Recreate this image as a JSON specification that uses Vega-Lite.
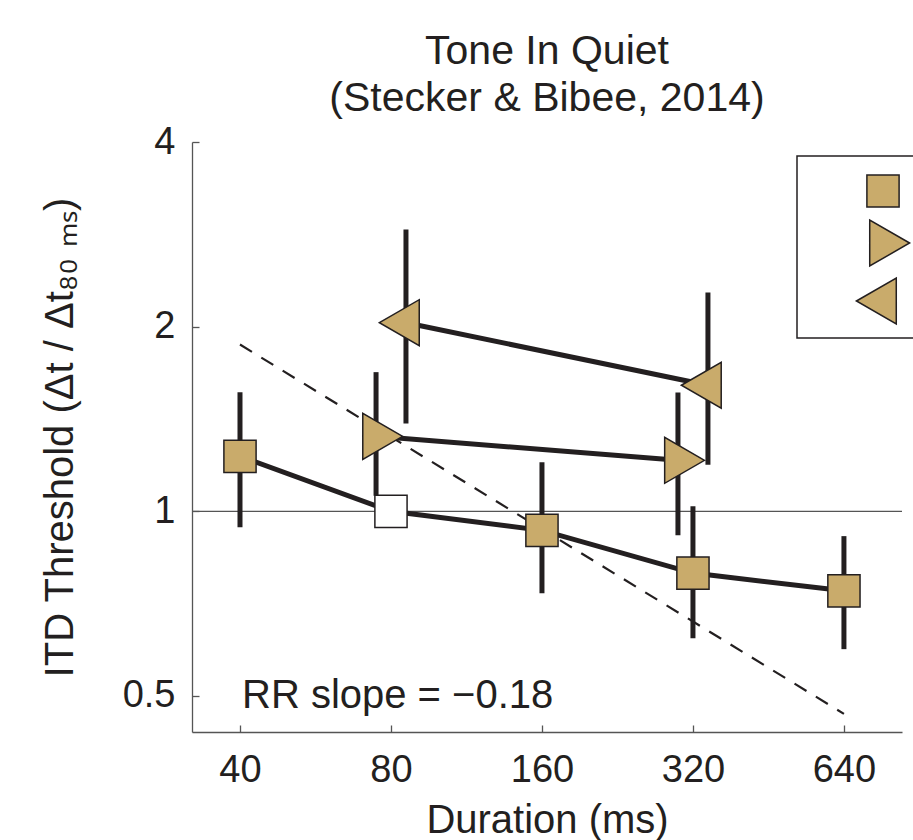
{
  "$schema": "https://vega.github.io/schema/vega-lite/v6.json",
  "width": 710,
  "height": 590,
  "autosize": {"type": "none"},
  "padding": {"left": 192, "top": 142, "right": 11, "bottom": 108},
  "background": "white",
  "config": {
    "font": "Liberation Sans",
    "view": {"stroke": null},
    "axis": {
      "grid": false,
      "domainColor": "#555555",
      "domainWidth": 1.3,
      "tickColor": "#555555",
      "tickWidth": 1.3,
      "tickSize": -7,
      "labelFontSize": 38,
      "labelColor": "#231F20",
      "labelFont": "Liberation Sans",
      "titleFont": "Liberation Sans",
      "titleFontSize": 40,
      "titleFontWeight": "normal",
      "titleColor": "#231F20",
      "labelFlush": false,
      "labelOverlap": false
    },
    "axisX": {"labelPadding": 26, "titlePadding": 11},
    "axisY": {"labelPadding": 24, "titlePadding": 42},
    "legend": {"strokeWidth": 1.5}
  },
  "title": {
    "text": ["Tone In Quiet", "(Stecker & Bibee, 2014)"],
    "font": "Liberation Sans",
    "fontSize": 41,
    "fontWeight": "normal",
    "color": "#231F20",
    "lineHeight": 47,
    "baseline": "bottom",
    "offset": -38,
    "anchor": "middle",
    "frame": "group"
  },
  "datasets": {
    "points": [
      {"series": "A", "duration": 40, "threshold": 1.229, "lo": 0.942, "hi": 1.563},
      {"series": "A", "duration": 80, "threshold": 1.0, "lo": null, "hi": null},
      {"series": "A", "duration": 160, "threshold": 0.931, "lo": 0.735, "hi": 1.202},
      {"series": "A", "duration": 320, "threshold": 0.793, "lo": 0.621, "hi": 1.019},
      {"series": "A", "duration": 640, "threshold": 0.742, "lo": 0.596, "hi": 0.911},
      {"series": "B", "duration": 74.7, "threshold": 1.325, "lo": 1.06, "hi": 1.686},
      {"series": "B", "duration": 298.7, "threshold": 1.211, "lo": 0.914, "hi": 1.562},
      {"series": "C", "duration": 85.7, "threshold": 2.03, "lo": 1.39, "hi": 2.88},
      {"series": "C", "duration": 342.8, "threshold": 1.605, "lo": 1.191, "hi": 2.274}
    ],
    "ref": [
      {"duration": 40, "threshold": 1.87},
      {"duration": 640, "threshold": 0.4675}
    ],
    "unity": [{"threshold": 1}],
    "annot": [{"duration": 40, "threshold": 0.5, "label": "RR slope = −0.18"}]
  },
  "layer": [
    {
      "data": {"name": "unity"},
      "mark": {"type": "rule", "color": "#555555", "strokeWidth": 1.3},
      "encoding": {
        "y": {"field": "threshold", "type": "quantitative",
          "scale": {"type": "log", "domain": [0.4367, 4], "nice": false},
          "axis": {"title": "ITD Threshold (Δt / Δt₈₀ ₘₛ)", "values": [0.5, 1, 2, 4], "format": "~g"}}
      }
    },
    {
      "data": {"name": "ref"},
      "mark": {"type": "line", "color": "#231F20", "strokeWidth": 2.2, "strokeDash": [14, 11]},
      "encoding": {
        "x": {"field": "duration", "type": "quantitative",
          "scale": {"type": "log", "domain": [32.09, 835.5], "nice": false, "zero": false},
          "axis": {"title": "Duration (ms)", "values": [40, 80, 160, 320, 640], "format": "d"}},
        "y": {"field": "threshold", "type": "quantitative",
          "scale": {"type": "log", "domain": [0.4367, 4], "nice": false},
          "axis": {"title": "ITD Threshold (Δt / Δt₈₀ ₘₛ)", "values": [0.5, 1, 2, 4], "format": "~g"}}
      }
    },
    {
      "data": {"name": "points"},
      "mark": {"type": "line", "color": "#231F20", "strokeWidth": 5},
      "encoding": {
        "x": {"field": "duration", "type": "quantitative",
          "scale": {"type": "log", "domain": [32.09, 835.5], "nice": false, "zero": false},
          "axis": {"title": "Duration (ms)", "values": [40, 80, 160, 320, 640], "format": "d"}},
        "y": {"field": "threshold", "type": "quantitative",
          "scale": {"type": "log", "domain": [0.4367, 4], "nice": false},
          "axis": {"title": "ITD Threshold (Δt / Δt₈₀ ₘₛ)", "values": [0.5, 1, 2, 4], "format": "~g"}},
        "detail": {"field": "series", "type": "nominal"}
      }
    },
    {
      "data": {"name": "points"},
      "transform": [{"filter": "datum.lo != null"}],
      "mark": {"type": "rule", "color": "#231F20", "strokeWidth": 5},
      "encoding": {
        "x": {"field": "duration", "type": "quantitative",
          "scale": {"type": "log", "domain": [32.09, 835.5], "nice": false, "zero": false},
          "axis": {"title": "Duration (ms)", "values": [40, 80, 160, 320, 640], "format": "d"}},
        "y": {"field": "lo", "type": "quantitative",
          "scale": {"type": "log", "domain": [0.4367, 4], "nice": false},
          "axis": {"title": "ITD Threshold (Δt / Δt₈₀ ₘₛ)", "values": [0.5, 1, 2, 4], "format": "~g"}},
        "y2": {"field": "hi"}
      }
    },
    {
      "data": {"name": "points"},
      "mark": {"type": "point", "filled": false, "strokeWidth": 1.5, "opacity": 1, "size": 2116},
      "encoding": {
        "x": {"field": "duration", "type": "quantitative",
          "scale": {"type": "log", "domain": [32.09, 835.5], "nice": false, "zero": false},
          "axis": {"title": "Duration (ms)", "values": [40, 80, 160, 320, 640], "format": "d"}},
        "y": {"field": "threshold", "type": "quantitative",
          "scale": {"type": "log", "domain": [0.4367, 4], "nice": false},
          "axis": {"title": "ITD Threshold (Δt / Δt₈₀ ₘₛ)", "values": [0.5, 1, 2, 4], "format": "~g"}},
        "shape": {
          "field": "series", "type": "nominal",
          "scale": {"domain": ["A", "B", "C"], "range": ["M-0.7,-0.7L0.7,-0.7L0.7,0.7L-0.7,0.7Z", "M1.155,0L-0.577,-1L-0.577,1Z", "M-1.155,0L0.577,-1L0.577,1Z"]},
          "legend": {
            "orient": "none", "legendX": 605, "legendY": 14, "title": null,
            "labelExpr": "''", "labelOffset": 40, "labelFontSize": 38,
            "strokeColor": "#231F20", "fillColor": "white", "padding": 11,
            "symbolSize": 2116, "symbolFillColor": "#C9AB6B",
            "symbolStrokeWidth": 1.5, "symbolOpacity": 1, "symbolOffset": 51, "rowPadding": 6,
            "direction": "vertical"
          }
        },
        "stroke": {
          "field": "series", "type": "nominal",
          "scale": {"domain": ["A", "B", "C"], "range": ["#231F20", "#231F20", "#231F20"]},
          "legend": {
            "orient": "none", "legendX": 605, "legendY": 14, "title": null,
            "labelExpr": "''", "labelOffset": 40, "labelFontSize": 38,
            "strokeColor": "#231F20", "fillColor": "white", "padding": 11,
            "symbolSize": 2116, "symbolFillColor": "#C9AB6B",
            "symbolStrokeWidth": 1.5, "symbolOpacity": 1, "symbolOffset": 51, "rowPadding": 6,
            "direction": "vertical"
          }
        },
        "fill": {
          "condition": {"test": "datum.series === 'A' && datum.duration === 80", "value": "white"},
          "value": "#C9AB6B"
        }
      }
    },
    {
      "data": {"name": "annot"},
      "mark": {"type": "text", "align": "left", "baseline": "middle", "fontSize": 40, "font": "Liberation Sans", "color": "#231F20", "dx": 2},
      "encoding": {
        "x": {"field": "duration", "type": "quantitative",
          "scale": {"type": "log", "domain": [32.09, 835.5], "nice": false, "zero": false},
          "axis": {"title": "Duration (ms)", "values": [40, 80, 160, 320, 640], "format": "d"}},
        "y": {"field": "threshold", "type": "quantitative",
          "scale": {"type": "log", "domain": [0.4367, 4], "nice": false},
          "axis": {"title": "ITD Threshold (Δt / Δt₈₀ ₘₛ)", "values": [0.5, 1, 2, 4], "format": "~g"}},
        "text": {"field": "label"}
      }
    }
  ]
}
